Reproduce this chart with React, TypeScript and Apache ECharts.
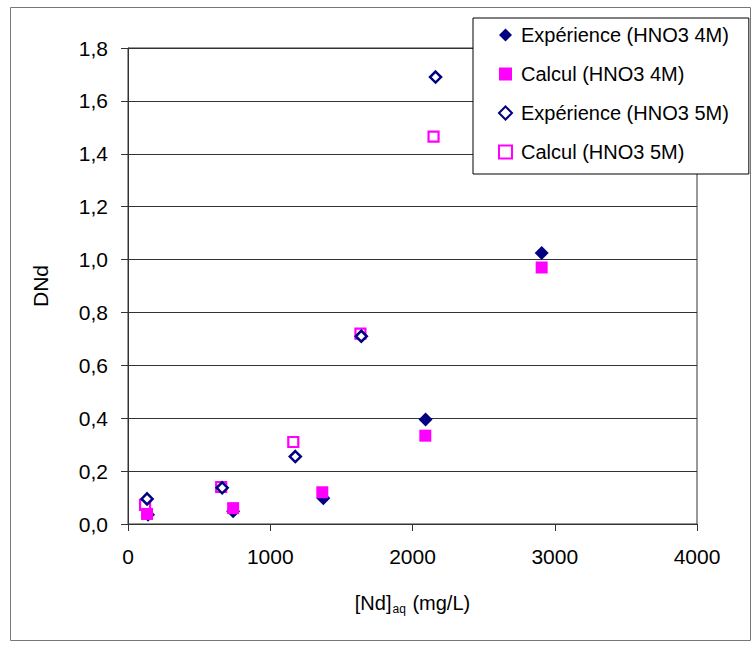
import React, { useEffect, useRef } from "react";
import * as echarts from "echarts";

const FONT = "Liberation Sans, Arial, sans-serif";

const legendNames = [
  "Expérience (HNO3 4M)",
  "Calcul (HNO3 4M)",
  "Expérience (HNO3 5M)",
  "Calcul (HNO3 5M)",
];

const exp4M: [number, number][] = [
  [141, 0.035],
  [739, 0.048],
  [1373, 0.097],
  [2092, 0.395],
  [2908, 1.025],
];
const calc4M: [number, number][] = [
  [134, 0.038],
  [739, 0.06],
  [1366, 0.12],
  [2090, 0.334],
  [2908, 0.97],
];
const exp5M: [number, number][] = [
  [134, 0.095],
  [662, 0.137],
  [1176, 0.255],
  [1640, 0.71],
  [2162, 1.69],
];
const calc5M: [number, number][] = [
  [120, 0.072],
  [655, 0.14],
  [1162, 0.31],
  [1634, 0.72],
  [2148, 1.465],
];

const NAVY = "#000080";
const MAGENTA = "#FF00FF";

export default function App() {
  const ref = useRef<HTMLDivElement>(null);
  useEffect(() => {
    if (!ref.current) return;
    const chart = echarts.init(ref.current, null, { renderer: "svg" });
    const option: any = {
      animation: false,
      backgroundColor: "#fff",
      textStyle: { fontFamily: FONT },
      graphic: [
        {
          type: "rect",
          shape: { x: 10.5, y: 7.5, width: 740, height: 633 },
          style: { fill: "none", stroke: "#777", lineWidth: 1 },
          silent: true,
          z: 0,
        },
      ],
      grid: {
        left: 128,
        right: 57,
        top: 48,
        bottom: 123,
        show: true,
        borderColor: "#333",
        borderWidth: 1,
        backgroundColor: "transparent",
      },
      legend: {
        orient: "vertical",
        left: 473,
        top: 18,
        backgroundColor: "#fff",
        borderColor: "#000",
        borderWidth: 1,
        padding: [7, 20, 12, 25],
        itemWidth: 13,
        itemHeight: 13,
        itemGap: 19,
        z: 10,
        textStyle: {
          fontFamily: FONT,
          fontSize: 20,
          color: "#000",
          lineHeight: 20,
          padding: [0, 0, 0, 4],
        },
        data: legendNames,
      },
      xAxis: {
        type: "value",
        min: 0,
        max: 4000,
        interval: 1000,
        name: "[Nd]{sub|aq} (mg/L)",
        nameLocation: "middle",
        nameGap: 67,
        nameTextStyle: {
          fontFamily: FONT,
          fontSize: 20,
          color: "#000",
          rich: {
            sub: { fontFamily: FONT, fontSize: 12, color: "#000", padding: [12, 1, 0, 1] },
          },
        },
        splitLine: { show: false },
        axisLine: { show: true, lineStyle: { color: "#333", width: 1 } },
        axisTick: { show: true, inside: false, length: 7, lineStyle: { color: "#333" } },
        axisLabel: {
          margin: 22,
          fontFamily: FONT,
          fontSize: 21,
          color: "#000",
          formatter: (v: number) => String(v),
        },
      },
      yAxis: {
        type: "value",
        min: 0,
        max: 1.8,
        interval: 0.2,
        name: "DNd",
        nameLocation: "middle",
        nameRotate: 90,
        nameGap: 77,
        nameTextStyle: { fontFamily: FONT, fontSize: 21, color: "#000" },
        splitLine: { show: true, lineStyle: { color: "#333", width: 1 } },
        axisLine: { show: true, lineStyle: { color: "#333", width: 1 } },
        axisTick: { show: true, inside: false, length: 7, lineStyle: { color: "#333" } },
        axisLabel: {
          margin: 20,
          fontFamily: FONT,
          fontSize: 21,
          color: "#000",
          formatter: (v: number) => v.toFixed(1).replace(".", ","),
        },
      },
      series: [
        {
          name: legendNames[0],
          type: "scatter",
          data: exp4M,
          symbol: "diamond",
          symbolSize: 14,
          itemStyle: { color: NAVY, opacity: 1 },
          z: 4,
        },
        {
          name: legendNames[1],
          type: "scatter",
          data: calc4M,
          symbol: "rect",
          symbolSize: 12,
          itemStyle: { color: MAGENTA, opacity: 1 },
          z: 5,
        },
        {
          name: legendNames[2],
          type: "scatter",
          data: exp5M,
          symbol: "diamond",
          symbolSize: 11,
          itemStyle: { color: "#fff", borderColor: NAVY, borderWidth: 2.5, opacity: 1 },
          z: 3,
        },
        {
          name: legendNames[3],
          type: "scatter",
          data: calc5M,
          symbol: "rect",
          symbolSize: 10,
          itemStyle: { color: "#fff", borderColor: MAGENTA, borderWidth: 2.2, opacity: 1 },
          z: 2,
        },
      ],
    };
    chart.setOption(option);
    return () => chart.dispose();
  }, []);
  return (
    <div
      ref={ref}
      style={{ position: "absolute", left: 0, top: 0, width: 754, height: 647 }}
    />
  );
}
